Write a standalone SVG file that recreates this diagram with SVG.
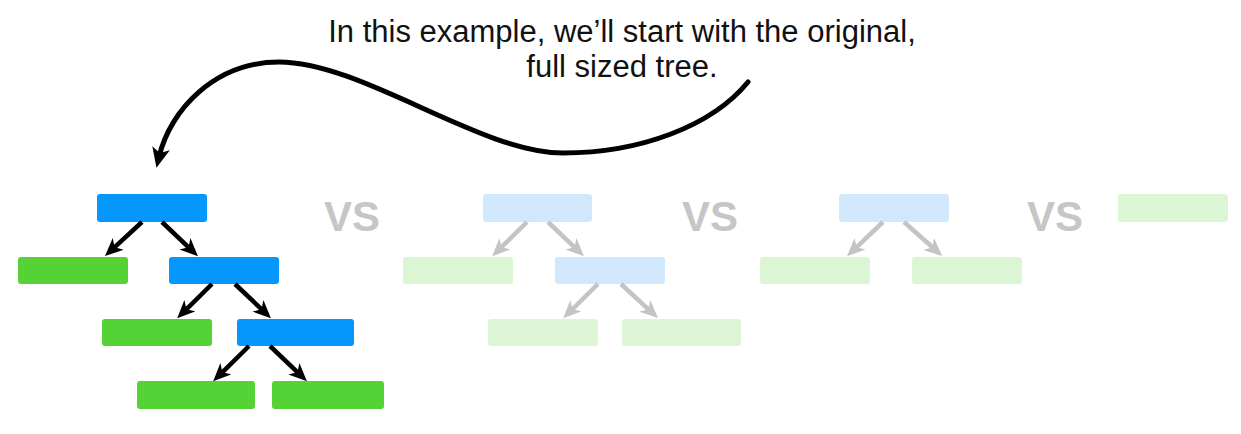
<svg xmlns="http://www.w3.org/2000/svg" width="1241" height="434" viewBox="0 0 1241 434">
<style>
.cap{font-family:"Liberation Sans",Arial,sans-serif;font-size:31px;fill:#111;text-anchor:middle}
.vs{font-family:"Liberation Sans",Arial,sans-serif;font-size:42px;font-weight:bold;fill:#c6c6c6;text-anchor:middle}
.blue{fill:#0597fb}
.green{fill:#55d236}
.lblue{fill:#d1e8fc}
.lgreen{fill:#dcf5d4}
.dk{stroke:#000;stroke-width:4.5;fill:none;marker-end:url(#ah)}
.lt{stroke:#c4c4c4;stroke-width:4.5;fill:none;marker-end:url(#ahl)}
</style>
<defs>
<marker id="ah" markerUnits="userSpaceOnUse" markerWidth="18" markerHeight="16" refX="8" refY="8" orient="auto" viewBox="0 0 18 16">
<path d="M0,0 L18,8 L0,16 L5,8 Z" fill="#000"/>
</marker>
<marker id="ahl" markerUnits="userSpaceOnUse" markerWidth="18" markerHeight="16" refX="8" refY="8" orient="auto" viewBox="0 0 18 16">
<path d="M0,0 L18,8 L0,16 L5,8 Z" fill="#c4c4c4"/>
</marker>
<marker id="ahc" markerUnits="userSpaceOnUse" markerWidth="20" markerHeight="18" refX="9" refY="9" orient="auto" viewBox="0 0 20 18">
<path d="M0,0 L20,9 L0,18 L5,9 Z" fill="#000"/>
</marker>
</defs>

<g id="caption">
<text class="cap" x="622" y="42">In this example, we’ll start with the original,</text>
<text class="cap" x="622" y="77">full sized tree.</text>
</g>

<g id="vs-labels">
<text class="vs" x="352" y="231">VS</text>
<text class="vs" x="710" y="231">VS</text>
<text class="vs" x="1055" y="231">VS</text>
</g>

<g id="tree1">
<rect id="t1-root" class="blue" x="97" y="194" width="110" height="28" rx="3"/>
<rect id="t1-leaf1" class="green" x="18" y="257" width="110" height="27" rx="3"/>
<rect id="t1-n2" class="blue" x="169" y="257" width="110" height="27" rx="3"/>
<rect id="t1-leaf2" class="green" x="102" y="319" width="110" height="27" rx="3"/>
<rect id="t1-n3" class="blue" x="237" y="319" width="117" height="27" rx="3"/>
<rect id="t1-leaf3" class="green" x="137" y="381" width="118" height="28" rx="3"/>
<rect id="t1-leaf4" class="green" x="272" y="381" width="112" height="28" rx="3"/>
</g>

<g id="tree2">
<rect id="t2-root" class="lblue" x="483" y="194" width="109" height="28" rx="3"/>
<rect id="t2-leaf1" class="lgreen" x="403" y="257" width="110" height="27" rx="3"/>
<rect id="t2-n2" class="lblue" x="555" y="257" width="110" height="27" rx="3"/>
<rect id="t2-leaf2" class="lgreen" x="488" y="319" width="110" height="27" rx="3"/>
<rect id="t2-leaf3" class="lgreen" x="622" y="319" width="119" height="27" rx="3"/>
</g>

<g id="tree3">
<rect id="t3-root" class="lblue" x="839" y="194" width="110" height="28" rx="3"/>
<rect id="t3-leaf1" class="lgreen" x="760" y="257" width="110" height="27" rx="3"/>
<rect id="t3-leaf2" class="lgreen" x="912" y="257" width="110" height="27" rx="3"/>
</g>

<g id="tree4">
<rect id="t4-leaf" class="lgreen" x="1118" y="194" width="110" height="28" rx="3"/>
</g>

<g id="connectors">
<path class="dk" d="M142,222 L112.3,249.3"/>
<path class="dk" d="M162,222 L190.7,249.3"/>
<path class="dk" d="M212,284 L184.3,311.3"/>
<path class="dk" d="M235,284 L263.7,311.3"/>
<path class="dk" d="M249,346 L220.3,374.3"/>
<path class="dk" d="M270,346 L299.7,374.3"/>
<path class="lt" d="M527,222 L499.3,249.3"/>
<path class="lt" d="M548,222 L576.7,249.3"/>
<path class="lt" d="M598,284 L570.3,311.3"/>
<path class="lt" d="M621,284 L650.7,311.3"/>
<path class="lt" d="M883,222 L854.3,249.3"/>
<path class="lt" d="M904,222 L934.7,249.3"/>
<path id="callout" d="M748,82 C712,126 640,153 563,153 C480,153 362,62 279,62 C215,62 170,110 159,157" stroke="#000" stroke-width="5" fill="none" stroke-linecap="round" marker-end="url(#ahc)"/>
</g>
</svg>
